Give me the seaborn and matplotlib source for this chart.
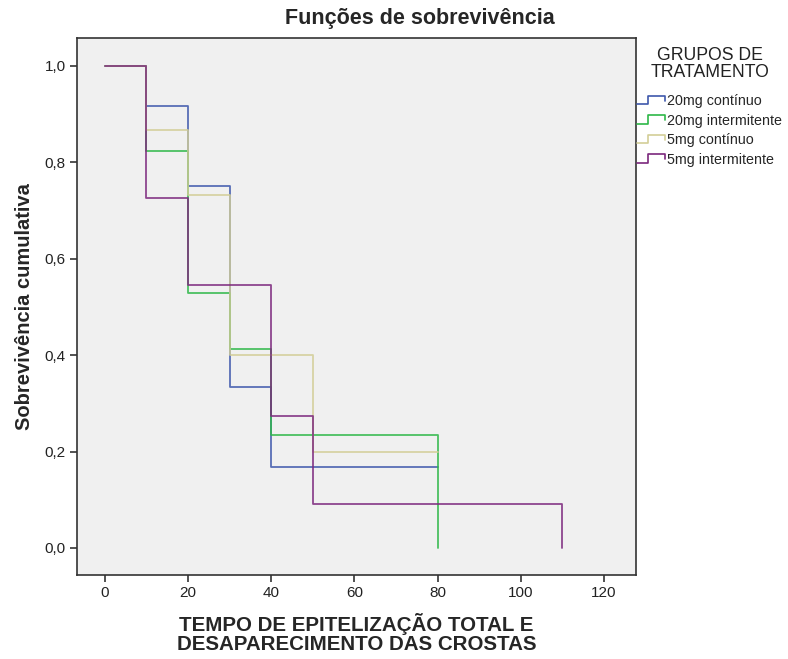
import pandas as pd
import matplotlib
matplotlib.use("Agg")
import matplotlib.pyplot as plt
import seaborn as sns
from matplotlib.legend_handler import HandlerBase
from matplotlib.lines import Line2D

# Kaplan-Meier estimates
groups = ["20mg contínuo", "20mg intermitente", "5mg contínuo", "5mg intermitente"]
time_20c = [0, 10, 20, 30, 40, 80]
surv_20c = [1.0, 0.917, 0.750, 0.333, 0.167, 0.167]
time_20i = [0, 10, 20, 30, 40, 80]
surv_20i = [1.0, 0.824, 0.529, 0.412, 0.235, 0.0]
time_5c = [0, 10, 20, 30, 50, 80]
surv_5c = [1.0, 0.867, 0.733, 0.400, 0.200, 0.200]
time_5i = [0, 10, 20, 40, 50, 110]
surv_5i = [1.0, 0.727, 0.545, 0.273, 0.091, 0.0]

x_ticks = [0, 20, 40, 60, 80, 100, 120]
y_ticks = [0.0, 0.2, 0.4, 0.6, 0.8, 1.0]

colors = ["#3E58AC", "#2EB848", "#D3CE97", "#7C287D"]

frames = []
for g, t, s in zip(groups,
                   [time_20c, time_20i, time_5c, time_5i],
                   [surv_20c, surv_20i, surv_5c, surv_5i]):
    frames.append(pd.DataFrame({"Tempo": t, "Sobrevivencia": s, "Grupo": g}))
df = pd.concat(frames, ignore_index=True)

sns.set_style("white")
plt.rcParams["font.family"] = ["Liberation Sans", "DejaVu Sans"]

fig = plt.figure(figsize=(7.88, 6.59), dpi=100)
ax = fig.add_axes([0.0977, 0.1275, 0.7094, 0.8149])
ax.set_facecolor("#F0F0F0")

sns.lineplot(data=df, x="Tempo", y="Sobrevivencia", hue="Grupo", hue_order=groups,
             palette=colors, estimator=None, sort=False, drawstyle="steps-post",
             linewidth=1.3, alpha=0.85, legend=False, ax=ax)

ax.set_xlim(-6.7, 127.7)
ax.set_ylim(-0.056, 1.058)
ax.set_xticks(x_ticks)
ax.set_yticks(y_ticks)
ax.set_xticklabels([str(v) for v in x_ticks])
ax.set_yticklabels([f"{v:.1f}".replace(".", ",") for v in y_ticks])
ax.tick_params(axis="both", which="both", direction="out", length=5, width=1.2,
               color="#333333", labelsize=11, labelcolor="#222222",
               bottom=True, left=True, top=False, right=False, pad=3)
for sp in ax.spines.values():
    sp.set_visible(True)
    sp.set_color("#333333")
    sp.set_linewidth(1.2)

ax.set_xlabel("TEMPO DE EPITELIZAÇÃO TOTAL E\nDESAPARECIMENTO DAS CROSTAS",
              fontsize=14.8, fontweight="bold", linespacing=1.05, labelpad=9)
ax.set_ylabel("Sobrevivência cumulativa", fontsize=14.5, fontweight="bold", labelpad=8)

fig.text(0.533, 0.972, "Funções de sobrevivência", ha="center", va="center",
         fontsize=15.5, fontweight="bold")


class StepHandler(HandlerBase):
    def create_artists(self, legend, orig_handle, xdescent, ydescent, width, height,
                       fontsize, trans):
        x0 = -xdescent
        y0 = -ydescent
        xs = [x0, x0 + 0.42 * width, x0 + 0.42 * width, x0 + width, x0 + width]
        ys = [y0 + 0.1 * height, y0 + 0.1 * height, y0 + 0.95 * height,
              y0 + 0.95 * height, y0 + 0.45 * height]
        line = Line2D(xs, ys, color=orig_handle.get_color(), linewidth=1.2)
        line.set_transform(trans)
        return [line]


handles = [Line2D([], [], color=c) for c in colors]
leg = fig.legend(handles, groups, loc="upper left", bbox_to_anchor=(0.808, 0.857),
                 frameon=False, fontsize=10.3, handler_map={Line2D: StepHandler()},
                 handlelength=1.95, handletextpad=0.15, labelspacing=0.38,
                 borderaxespad=0, borderpad=0)
fig.text(0.901, 0.903, "GRUPOS DE\nTRATAMENTO", ha="center", va="center",
         fontsize=12.7, linespacing=1.0, color="#222222")

fig.savefig("out.png", dpi=100, facecolor="white")
